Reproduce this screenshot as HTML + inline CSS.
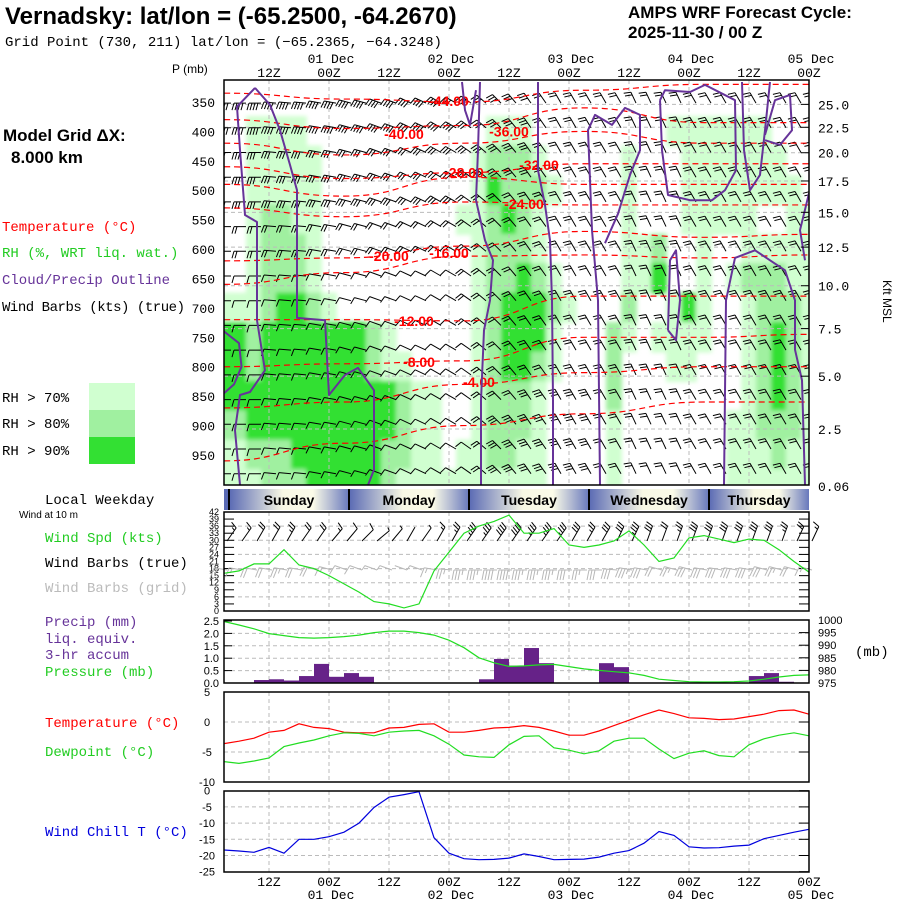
<!DOCTYPE html>
<html><head><meta charset="utf-8">
<style>
body{margin:0;background:#fff;width:900px;height:900px;overflow:hidden}
svg text{font-family:"Liberation Sans",sans-serif}
svg text.lbl{font-size:14px;font-family:"Liberation Mono",monospace}
.ax{font-size:13px;font-family:"Liberation Mono","Liberation Sans",monospace}
</style></head><body>
<svg id="c" width="900" height="900" viewBox="0 0 900 900">
<defs>
 <clipPath id="mainClip"><rect x="224" y="80" width="585" height="405"/></clipPath>
 <filter id="soft" x="-5%" y="-5%" width="110%" height="110%"><feGaussianBlur stdDeviation="2.2"/></filter>
 <linearGradient id="dayGrad" x1="0" x2="1" y1="0" y2="0">
  <stop offset="0" stop-color="#5a6ab4"/><stop offset="0.45" stop-color="#f8f8e4"/><stop offset="0.7" stop-color="#fbfbe8"/><stop offset="1" stop-color="#6878bc"/>
 </linearGradient>
</defs>
<text x="5" y="24" font-size="24" font-weight="bold">Vernadsky:  lat/lon = (-65.2500, -64.2670)</text>
<text x="5" y="46" class="lbl">Grid Point (730, 211) lat/lon = (−65.2365, −64.3248)</text>
<text x="628" y="18" font-size="17" font-weight="bold">AMPS WRF Forecast Cycle:</text>
<text x="628" y="38" font-size="17" font-weight="bold">2025-11-30 / 00  Z</text>
<text x="172" y="73" font-size="12" font-family="Liberation Mono">P (mb)</text>
<text x="3" y="141" font-size="17" font-weight="bold">Model Grid ΔX:</text>
<text x="11" y="163" font-size="17" font-weight="bold">8.000 km</text>
<text x="2" y="231" class="lbl" fill="#ff0000">Temperature (°C)</text>
<text x="2" y="257" class="lbl" fill="#22cc22">RH (%, WRT liq. wat.)</text>
<text x="2" y="284" class="lbl" fill="#663399">Cloud/Precip Outline</text>
<text x="2" y="311" class="lbl" fill="#000" textLength="183">Wind Barbs (kts) (true)</text>
<text x="2" y="402" class="lbl">RH &gt; 70%</text>
<text x="2" y="428" class="lbl">RH &gt; 80%</text>
<text x="2" y="455" class="lbl">RH &gt; 90%</text>
<rect x="89" y="383" width="46" height="27" fill="#d0ffd0"/>
<rect x="89" y="410" width="46" height="27" fill="#a0f0a0"/>
<rect x="89" y="437" width="46" height="27" fill="#33e033"/>
<text x="883" y="280" font-size="12" font-family="Liberation Mono" transform="rotate(90 883 280)">Kft MSL</text>
<text x="45" y="504" class="lbl">Local Weekday</text>
<text x="19" y="518" font-size="10">Wind at 10 m</text>
<text x="45" y="542" class="lbl" fill="#22cc22">Wind Spd (kts)</text>
<text x="45" y="567" class="lbl">Wind Barbs (true)</text>
<text x="45" y="592" class="lbl" fill="#bbbbbb">Wind Barbs (grid)</text>
<text x="45" y="626" class="lbl" fill="#663399">Precip (mm)</text>
<text x="45" y="643" class="lbl" fill="#663399">liq. equiv.</text>
<text x="45" y="659" class="lbl" fill="#663399">3-hr accum</text>
<text x="45" y="676" class="lbl" fill="#22cc22">Pressure (mb)</text>
<text x="855" y="656" class="lbl">(mb)</text>
<text x="45" y="727" class="lbl" fill="#ff0000">Temperature (°C)</text>
<text x="45" y="756" class="lbl" fill="#22cc22">Dewpoint (°C)</text>
<text x="45" y="836" class="lbl" fill="#0000dd">Wind Chill T (°C)</text>
</svg>
<script>
// ---------- data ----------
const stepHours = 3;
const windSpd10 = [16,17,20,20,26,19.5,18,15,11.5,8,4,3,1.3,3,17,25,33,36,38,40.7,33,33,35,28,27,28,29.7,34,28,21,22.5,31,32,30.5,29,30.5,30,26,21,16.5];
const windDir10 = [35,35,30,30,30,35,35,40,40,45,50,40,30,35,30,30,35,35,35,35,35,35,35,30,30,30,25,25,20,20,20,20,20,20,20,20,20,20,25,25];
const gridDir10 = [280,280,280,280,280,280,285,285,290,290,290,290,290,290,280,275,270,270,270,270,270,270,270,270,270,270,275,280,280,285,285,285,280,280,280,280,285,285,285,285];
const precip3h = [0,0,0.12,0.15,0.1,0.28,0.77,0.25,0.4,0.25,0,0,0,0,0,0,0,0.15,0.97,0.7,1.41,0.8,0,0,0,0.8,0.64,0,0,0,0,0,0,0,0,0.28,0.4,0.05,0];
const sfcPressure = [999.4,998,996.5,994.6,993.8,993,992.8,993,993.4,994,995,995.6,995.6,995,994,992,989,985,983,981.6,981.8,982.2,982.4,981.5,980.6,980,979.5,979,978,976.5,976,975.5,975.4,975.4,975.5,975.8,976.5,977.4,978,978.2];
const sfcTemp = [-3.6,-3.2,-2.7,-1.7,-1.4,-0.3,-0.9,-1.1,-1.7,-1.8,-1.8,-1.0,-0.9,-0.4,-0.3,-1.7,-1.7,-1.4,-1.0,-0.9,-0.6,-0.9,-1.5,-2.2,-2.2,-1.5,-0.6,0.3,1.2,2.0,1.4,0.7,0.6,0.4,0.5,0.9,1.3,1.9,2.0,1.3];
const sfcDewpoint = [-6.6,-6.9,-6.5,-6.0,-4.1,-3.5,-3.0,-2.3,-1.8,-1.9,-2.3,-1.7,-1.5,-1.4,-2.3,-3.7,-5.5,-5.8,-5.9,-3.8,-2.4,-2.3,-4.3,-4.7,-5.3,-4.8,-3.2,-2.7,-2.7,-4.5,-6.1,-5.2,-4.8,-5.6,-5.8,-3.8,-2.8,-2.2,-1.8,-2.3];
const windChill = [-18.3,-18.6,-19.0,-17.5,-19.3,-15.0,-15.0,-14.2,-12.8,-10.0,-5.2,-2.0,-1.2,-0.3,-14.5,-19.3,-21.0,-21.3,-21.2,-20.8,-19.5,-20.3,-21.3,-21.2,-21.1,-20.5,-19.3,-18.5,-16.2,-12.6,-13.8,-17.3,-17.7,-17.6,-17.1,-16.8,-14.8,-13.8,-12.8,-11.9];
const rhLevels = [350,400,450,500,550,600,650,700,750,800,850,900,950,1000];
const rhRows = [
 "0000000000000000000000000000000000000000",
 "0011110000000000001110000000001111111000",
 "0011111000000000012221000001000111111100",
 "0011111000000000013222100001000111111110",
 "0012211000000000112321000001000111110011",
 "0012221000000000012221000001120010011111",
 "0012221000000000012232100001130010122211",
 "1112332100000000012333210002001310012221",
 "3323333333210000012333100021011110012321",
 "3323333333211000012332100020001100012321",
 "3333333333332110012221000020000000012321",
 "2233333333332110012221000010000000112221",
 "1122233333322110112211000010000000111211",
 "1112223333321111111111000010000000111111"];
const barbLevels = [350,400,450,500,550,600,650,700,750,800,850,900,950];
const barbSpdRows = [
 "4444444444444443333332222222222222222222",
 "4444444444444444333332222222222222222222",
 "3333333333333333333332222222222222222222",
 "3333333333333333222222222222222222222222",
 "2222222222222222222222222222222222222222",
 "2222222222222222222222222222222222222222",
 "1111111111111111222222222222222222222222",
 "1111111111111111222222222222222222222222",
 "1111111111111111122222222222222222222222",
 "1111111111111111122222222222222222222222",
 "1111111111111111122233333222222222222222",
 "1111111111111111123333333222222222222222",
 "1111111111111111123333333222222222222222"];
const barbDir = [270,270,270,275,275,275,280,280,285,285,290,290,295,295,300,300,305,310,315,320,325,325,330,330,330,330,330,335,335,335,335,330,330,330,330,330,330,330,330,330];
const isoTimes = [0,24,48,72,96,117];
const isoLevels = [-44,-40,-36,-32,-28,-24,-20,-16,-12,-8,-4,0];
const isoP = [
 [335,345,350,330,320,320],
 [380,395,390,360,385,385],
 [420,440,420,400,420,420],
 [460,480,470,455,455,455],
 [490,510,478,490,490,490],
 [530,545,520,525,525,525],
 [620,615,595,570,580,575],
 [660,640,612,610,615,610],
 [720,720,722,680,680,680],
 [800,795,790,750,750,745],
 [870,860,830,810,800,800],
 [960,930,900,880,860,860]];
const isoLabelT = [45,36,57,63,48,60,33,45,38,39,51];
const isoLabelP = [348,404,400,457,470,523,612,607,722,792,826];
const cloudOutlines = [
 [[6.2,326],[2.6,358],[3.2,432],[4.2,542],[6.6,554],[6.6,721],[8.2,806],[5.2,843],[3.2,848],[2.2,908],[3.2,1001]],
 [[6.2,326],[9.2,355],[11.2,398],[13.2,457],[14.6,500],[14.6,717],[20.2,721],[21,848],[24.2,814],[26.8,802],[30,840],[30,975],[28.8,1001]],
 [[0,740],[3,760],[3.5,800],[2,830],[0,845]],
 [[51.2,316],[50.8,432],[50.4,517],[52.2,585],[53.8,619],[53.2,687],[52,738],[51.4,857],[51.4,1001]],
 [[47.6,316],[48.2,364],[49.2,389],[50.4,330]],
 [[62.8,316],[62.8,466],[64.2,525],[65.2,585],[65.6,687],[65.8,857],[65.8,1001]],
 [[75.2,1001],[74.8,687],[73.6,568],[72.8,398],[74.2,372],[77.6,389],[80.2,360],[83.2,372],[83.2,432],[81.2,474],[78.8,540],[76.2,590]],
 [[87.2,347],[88.2,330],[93.2,333],[96.2,321],[102.2,347],[102.4,466],[100.2,500],[97.6,517],[93.2,517],[88.8,508],[87.6,432],[87.2,347]],
 [[103.6,316],[104,432],[105.2,500],[107.2,474],[108.2,398],[109.2,316]],
 [[108.2,406],[110.2,347],[113.2,338],[113.6,398],[111.2,423],[108.2,415]],
 [[100,1001],[100.4,687],[102.2,615],[106.2,602],[112.2,636],[114.2,687],[114.2,771],[115.6,823],[116.2,1001]],
 [[88.8,738],[89.2,619],[90.4,602],[91.2,687],[90.4,755],[88.8,738]],
 [[117,505],[115.2,568],[116.2,619]]];
const pressureTicks = [350,400,450,500,550,600,650,700,750,800,850,900,950];
const kftTicks = [25,22.5,20,17.5,15,12.5,10,7.5,5,2.5];
const kftTickLabels = ["25.0","22.5","20.0","17.5","15.0","12.5","10.0","7.5","5.0","2.5"];
const hourTicks = [9,21,33,45,57,69,81,93,105,117];
const hourTickLabels = ["12Z","00Z","12Z","00Z","12Z","00Z","12Z","00Z","12Z","00Z"];
const dateTicks = [21,45,69,93,117];
const dateTickLabels = ["01 Dec","02 Dec","03 Dec","04 Dec","05 Dec"];
const dayNames = ["Sunday","Monday","Tuesday","Wednesday","Thursday"];
const dayStarts = [1,25,49,73,97];
const windTicks = [0,3,6,9,12,15,18,21,24,27,30,33,36,39,42];
const precipTicks = [0,0.5,1,1.5,2,2.5];
const precipTickLabels = ["0.0","0.5","1.0","1.5","2.0","2.5"];
const presTicks = [975,980,985,990,995,1000];
const tempTicks = [5,0,-5,-10];
const chillTicks = [0,-5,-10,-15,-20,-25];

// ---------- helpers ----------
const NS='http://www.w3.org/2000/svg';
const svg=document.getElementById('c');
function mk(tag,attrs,parent){const e=document.createElementNS(NS,tag);for(const k in attrs)e.setAttribute(k,attrs[k]);(parent||svg).appendChild(e);return e;}
const L=224, R=809, T_END=117;
const X = t => L + t*(R-L)/T_END;
const Ymain = p => 102 + (p-350)*0.5883;
const kftToP = k => 1003*Math.exp(-((k-0.06)*304.8)/7300);
const Ywind = v => 611 - v*(99/42);
const Yprc = v => 683 - v*24.8;
const Ypres = v => 683 - (v-975)*2.52;
const Ytemp = v => 722 - v*6;
const Ychill = v => 790.7 - v*3.24;
const tAt = i => i*stepHours;
function poly(pts){return pts.map((p,i)=>(i?'L':'M')+p[0].toFixed(1)+','+p[1].toFixed(1)).join('');}

function vgrid(y0,y1,g){
 hourTicks.forEach(h=>{
  const ln=mk('line',{x1:X(h),x2:X(h),y1:y0,y2:y1,stroke:'#bbb','stroke-dasharray':'4,3','stroke-width':1},g);
  
  
 });
}
function hgrid(ys,g){
 ys.forEach(y=>{
  const ln=mk('line',{x1:L,x2:R,y1:y,y2:y,stroke:'#bbb','stroke-dasharray':'4,3','stroke-width':1},g);
  
  
 });
}
function frame(y0,y1,name){
 const r=mk('rect',{x:L,y:y0,width:R-L,height:y1-y0,fill:'none',stroke:'#000','stroke-width':1.5});
 
 
}
function barb(g,x,y,dir,spd,len,color,fl){
 const a=dir*Math.PI/180, ux=Math.sin(a), uy=-Math.cos(a);
 const tx=x+ux*len, ty=y+uy*len, px=uy, py=-ux;
 let d='M'+x.toFixed(1)+','+y.toFixed(1)+'L'+tx.toFixed(1)+','+ty.toFixed(1);
 let n=Math.round(spd/5), pos=0;
 while(n>=10){const bx=tx-ux*pos,by=ty-uy*pos;d+='M'+bx.toFixed(1)+','+by.toFixed(1)+'L'+(bx+px*fl).toFixed(1)+','+(by+py*fl).toFixed(1)+'L'+(bx-ux*3).toFixed(1)+','+(by-uy*3).toFixed(1);n-=10;pos+=4;}
 while(n>=2){const bx=tx-ux*pos,by=ty-uy*pos;d+='M'+bx.toFixed(1)+','+by.toFixed(1)+'L'+(bx+px*fl+ux*2).toFixed(1)+','+(by+py*fl+uy*2).toFixed(1);n-=2;pos+=3;}
 if(n===1){const bx=tx-ux*pos,by=ty-uy*pos;d+='M'+bx.toFixed(1)+','+by.toFixed(1)+'L'+(bx+px*fl*0.5+ux).toFixed(1)+','+(by+py*fl*0.5+uy).toFixed(1);}
 const p=mk('path',{d:d,stroke:color,'stroke-width':1,fill:'none'},g);
 
 
}

// ---------- main cross-section ----------
const mainG=mk('g',{'clip-path':'url(#mainClip)'});


const rhG=mk('g',{filter:'url(#soft)'},mainG);


const rhColors=['none','#d0ffd0','#a0f0a0','#33e033'];
rhRows.forEach((row,r)=>{
 const p=rhLevels[r];
 for(let i=0;i<row.length;i++){
  const v=+row[i]; if(!v) continue;
  const x0=X(tAt(i)-1.6), x1=X(tAt(i)+1.6), y0=Ymain(p-26), y1=Ymain(p+26);
  const c=mk('rect',{x:x0,y:y0,width:x1-x0,height:y1-y0,fill:rhColors[v]},rhG);
  
  
 }
});
const gridG=mk('g',{},mainG);


vgrid(80,485,gridG);
hgrid(kftTicks.map(k=>Ymain(kftToP(k))),gridG);
const barbG=mk('g',{},mainG);


for(let p=345;p<=975;p+=42){
 const r=Math.min(barbLevels.length-1,Math.max(0,Math.round((p-350)/50)));
 for(let i=0;i<40;i++){
  const s=+barbSpdRows[r][i]*10;
  barb(barbG,X(tAt(i))+7,Ymain(p)+4,barbDir[i],s,12,'#000',7);
 }
}
const isoG=mk('g',{},mainG);


isoLevels.forEach((lev,k)=>{
 const pts=isoTimes.map((t,j)=>[X(t),Ymain(isoP[k][j])]);
 let d='M'+pts[0][0]+','+pts[0][1];
 for(let j=1;j<pts.length;j++){const mx=(pts[j-1][0]+pts[j][0])/2;d+='C'+mx+','+pts[j-1][1]+' '+mx+','+pts[j][1]+' '+pts[j][0]+','+pts[j][1];}
 const pa=mk('path',{d:d,stroke:'#ff0000','stroke-width':1.2,fill:'none','stroke-dasharray':'6,4'},isoG);
 
 
 if(k<isoLabelT.length){
  const tx=mk('text',{x:X(isoLabelT[k]),y:Ymain(isoLabelP[k])+5,'font-size':14,'font-weight':'bold',fill:'#ff0000','text-anchor':'middle'},isoG);
  tx.textContent=lev.toFixed(2);
  
  
 }
});
const cloudG=mk('g',{},mainG);


cloudOutlines.forEach(o=>{
 const pa=mk('path',{d:poly(o.map(q=>[X(q[0]),Ymain(q[1])])),stroke:'#663399','stroke-width':2,fill:'none','stroke-linejoin':'round'},cloudG);
 
 
});
frame(80,485,'cross-section-frame');
pressureTicks.forEach(p=>{
 const t=mk('text',{x:215,y:Ymain(p)+5,'text-anchor':'end'}); t.setAttribute('class','ax');
 t.textContent=p;
 
 
});
kftTicks.forEach((k,i)=>{
 const y=Ymain(kftToP(k));
 const t=mk('text',{x:818,y:y+5}); t.setAttribute('class','ax');
 t.textContent=kftTickLabels[i];
 
 
 const tk=mk('line',{x1:R-8,x2:R,y1:y,y2:y,stroke:'#000'});
 
 
});
{const t=mk('text',{x:818,y:491}); t.setAttribute('class','ax'); t.textContent='0.06';
 
 }
hourTicks.forEach((h,i)=>{
 const t=mk('text',{x:X(h),y:77,'text-anchor':'middle'}); t.setAttribute('class','ax');
 t.textContent=hourTickLabels[i];
 
 
 const b=mk('text',{x:X(h),y:886,'text-anchor':'middle'}); b.setAttribute('class','ax');
 b.textContent=hourTickLabels[i];
 
 
});
dateTicks.forEach((h,i)=>{
 const t=mk('text',{x:X(h)+2,y:63,'text-anchor':'middle'}); t.setAttribute('class','ax');
 t.textContent=dateTickLabels[i];
 
 
 const b=mk('text',{x:X(h)+2,y:899,'text-anchor':'middle'}); b.setAttribute('class','ax');
 b.textContent=dateTickLabels[i];
 
 
});

// ---------- weekday bar ----------
{const bg=mk('rect',{x:L,y:489,width:R-L,height:21,fill:'#5a6ab4'});
 
 }
dayNames.forEach((n,i)=>{
 const x0=X(dayStarts[i]), x1=Math.min(R,X(dayStarts[i]+24));
 const r=mk('rect',{x:x0,y:489,width:x1-x0,height:21,fill:'url(#dayGrad)'});
 
 
 const ln=mk('line',{x1:x0,x2:x0,y1:489,y2:510,stroke:'#000','stroke-width':2});
 
 
 const t=mk('text',{x:(x0+x1)/2,y:505,'text-anchor':'middle','font-size':14,'font-weight':'bold'});
 t.textContent=n;
 
 
});

// ---------- wind panel ----------
const wG=mk('g',{});


vgrid(512,611,wG);
hgrid(windTicks.filter(v=>v>0&&v<42&&v%6===0).map(Ywind),wG);
windTicks.forEach(v=>{
 const y=Ywind(v);
 const t=mk('text',{x:219,y:y+3,'text-anchor':'end','font-size':9,'font-family':'Liberation Mono'},wG);
 t.textContent=v;
 
 
 const a=mk('line',{x1:L,x2:L+10,y1:y,y2:y,stroke:'#000'},wG);
 
 
 const b=mk('line',{x1:R-10,x2:R,y1:y,y2:y,stroke:'#000'},wG);
 
 
});
windSpd10.forEach((s,i)=>{
 barb(wG,X(tAt(i))+3,570,gridDir10[i],s,13,'#b8b8b8',10);
 barb(wG,X(tAt(i))+3,541,windDir10[i],s,16,'#000',7);
});
{const pl=mk('path',{d:poly(windSpd10.map((v,i)=>[X(tAt(i)),Ywind(v)])),stroke:'#22dd22','stroke-width':1.2,fill:'none'},wG);
 
 }
frame(512,611,'wind-panel-frame');

// ---------- precip / pressure panel ----------
const pG=mk('g',{});


vgrid(620,683,pG);
hgrid(precipTicks.slice(1,5).map(Yprc),pG);
precip3h.forEach((v,i)=>{
 if(v<=0) return;
 const r=mk('rect',{x:X(tAt(i)),y:Yprc(v),width:X(tAt(i)+3)-X(tAt(i)),height:Yprc(0)-Yprc(v),fill:'#662288'},pG);
 
 
});
{const pl=mk('path',{d:poly(sfcPressure.map((v,i)=>[X(tAt(i)),Ypres(v)])),stroke:'#22dd22','stroke-width':1.2,fill:'none'},pG);
 
 }
precipTicks.forEach((v,i)=>{
 const t=mk('text',{x:219,y:Yprc(v)+4,'text-anchor':'end','font-size':11,'font-family':'Liberation Mono'},pG);
 t.textContent=precipTickLabels[i];
 
 
 const a=mk('line',{x1:L,x2:L+8,y1:Yprc(v),y2:Yprc(v),stroke:'#000'},pG);
 
 
});
presTicks.forEach(v=>{
 const t=mk('text',{x:818,y:Ypres(v)+4,'font-size':11,'font-family':'Liberation Mono'},pG);
 t.textContent=v;
 
 
 const a=mk('line',{x1:R-10,x2:R,y1:Ypres(v),y2:Ypres(v),stroke:'#000'},pG);
 
 
});
frame(620,683,'precip-panel-frame');

// ---------- temperature panel ----------
const tG=mk('g',{});


vgrid(692,782,tG);
hgrid([0,-5].map(Ytemp),tG);
tempTicks.forEach(v=>{
 const t=mk('text',{x:207,y:Ytemp(v)+4,'text-anchor':'middle','font-size':11,'font-family':'Liberation Mono'},tG);
 t.textContent=v;
 
 
 const a=mk('line',{x1:R-10,x2:R,y1:Ytemp(v),y2:Ytemp(v),stroke:'#000'},tG);
 
 
});
{const pl=mk('path',{d:poly(sfcTemp.map((v,i)=>[X(tAt(i)),Ytemp(v)])),stroke:'#ff0000','stroke-width':1.2,fill:'none'},tG);
 
 }
{const pl=mk('path',{d:poly(sfcDewpoint.map((v,i)=>[X(tAt(i)),Ytemp(v)])),stroke:'#22dd22','stroke-width':1.2,fill:'none'},tG);
 
 }
frame(692,782,'temperature-panel-frame');

// ---------- wind chill panel ----------
const cG=mk('g',{});


vgrid(791,872,cG);
hgrid(chillTicks.slice(1,5).map(Ychill),cG);
chillTicks.forEach(v=>{
 const t=mk('text',{x:207,y:Ychill(v)+4,'text-anchor':'middle','font-size':11,'font-family':'Liberation Mono'},cG);
 t.textContent=v;
 
 
 const a=mk('line',{x1:R-10,x2:R,y1:Ychill(v),y2:Ychill(v),stroke:'#000'},cG);
 
 
});
{const pl=mk('path',{d:poly(windChill.map((v,i)=>[X(tAt(i)),Ychill(v)])),stroke:'#0000dd','stroke-width':1.2,fill:'none'},cG);
 
 }
frame(791,872,'wind-chill-panel-frame');
</script>
</body></html>
